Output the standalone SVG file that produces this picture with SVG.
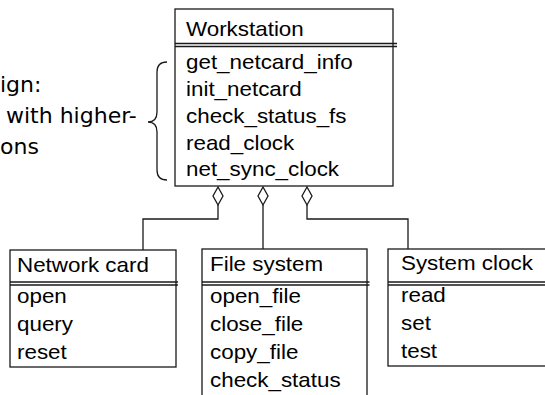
<svg xmlns="http://www.w3.org/2000/svg" width="545" height="395" viewBox="0 0 545 395">
  <style>
    .box { fill: #ffffff; stroke: #1a1a1a; stroke-width: 1.3; }
    .sep { stroke: #1a1a1a; stroke-width: 1.3; fill: none; }
    .wire { stroke: #1a1a1a; stroke-width: 1.3; fill: none; }
    .agg { fill: #ffffff; stroke: #1a1a1a; stroke-width: 1.3; }
    .t { font-family: "Liberation Sans", Arial, sans-serif; font-size: 20px; fill: #000000;
         transform-box: fill-box; transform-origin: 0% 50%; transform: scaleX(1.12); }
    .note { font-family: "DejaVu Sans", Verdana, sans-serif; font-size: 22px; fill: #000000; }
  </style>

  <!-- side note with brace -->
  <g id="note">
    <text class="note" x="0" y="91.5">ign:</text>
    <text class="note" x="6" y="123">with higher-</text>
    <text class="note" x="0" y="154">ons</text>
    <path class="wire" d="M167,62 Q157,62 157,72 V112 Q157,122 148,122 Q157,122 157,132 V170 Q157,180 167,180"/>
  </g>

  <!-- aggregation connectors -->
  <g id="connectors">
    <path class="wire" d="M218,205 V219 H143 V250"/>
    <path class="wire" d="M263,205 V249"/>
    <path class="wire" d="M307,205 V219 H408 V249"/>
    <polygon class="agg" points="218,187 223,196 218,205 213,196"/>
    <polygon class="agg" points="263,187 268,196 263,205 258,196"/>
    <polygon class="agg" points="307,187 312,196 307,205 302,196"/>
  </g>

  <!-- Workstation -->
  <g id="workstation">
    <rect class="box" x="175" y="9" width="218" height="177"/>
    <path class="sep" d="M175,43.5 H397 M175,46.5 H397"/>
    <text class="t" x="186" y="36">Workstation</text>
    <text class="t" x="186" y="69.5">get_netcard_info</text>
    <text class="t" x="186" y="96.2">init_netcard</text>
    <text class="t" x="186" y="122.9">check_status_fs</text>
    <text class="t" x="186" y="149.6">read_clock</text>
    <text class="t" x="186" y="176.3">net_sync_clock</text>
  </g>

  <!-- Network card -->
  <g id="network-card">
    <rect class="box" x="10" y="250" width="166" height="117"/>
    <path class="sep" d="M10,282 H178 M10,285 H178"/>
    <text class="t" x="17" y="272">Network card</text>
    <text class="t" x="17" y="303">open</text>
    <text class="t" x="17" y="331">query</text>
    <text class="t" x="17" y="359">reset</text>
  </g>

  <!-- File system -->
  <g id="file-system">
    <rect class="box" x="202" y="249" width="165" height="160"/>
    <path class="sep" d="M202,282 H369.5 M202,285 H369.5"/>
    <text class="t" x="210" y="271">File system</text>
    <text class="t" x="210" y="303">open_file</text>
    <text class="t" x="210" y="331">close_file</text>
    <text class="t" x="210" y="359">copy_file</text>
    <text class="t" x="210" y="387">check_status</text>
  </g>

  <!-- System clock -->
  <g id="system-clock">
    <rect class="box" x="388" y="249" width="170" height="117"/>
    <path class="sep" d="M388,282 H558 M388,285 H558"/>
    <text class="t" x="401" y="270">System clock</text>
    <text class="t" x="401" y="302">read</text>
    <text class="t" x="401" y="330">set</text>
    <text class="t" x="401" y="358">test</text>
  </g>
</svg>
